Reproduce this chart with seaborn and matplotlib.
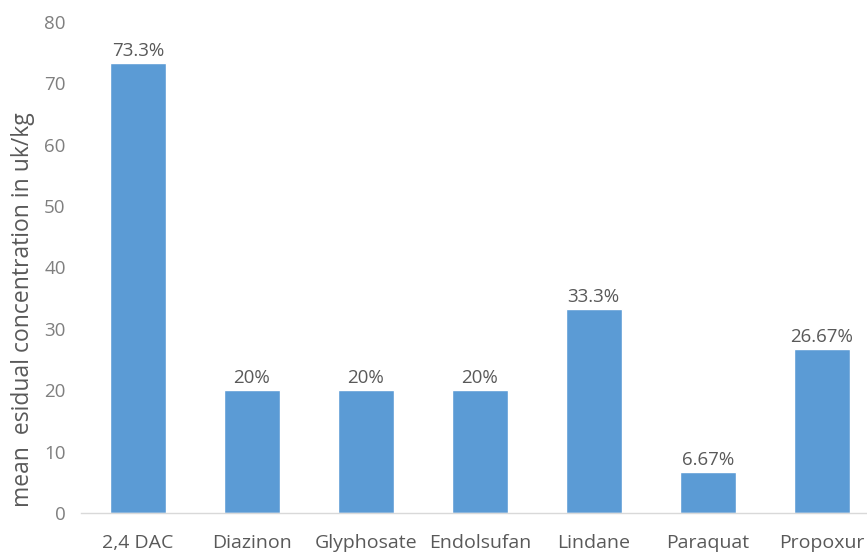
import matplotlib
matplotlib.use("Agg")
import matplotlib.pyplot as plt
import seaborn as sns
import pandas as pd

pesticides = ["2,4 DAC", "Diazinon", "Glyphosate", "Endolsufan", "Lindane", "Paraquat", "Propoxur"]
residue = [73.3, 20, 20, 20, 33.3, 6.67, 26.67]
bar_labels = ["73.3%", "20%", "20%", "20%", "33.3%", "6.67%", "26.67%"]
y_ticks = [0, 10, 20, 30, 40, 50, 60, 70, 80]

sns.set_theme(style="white")
plt.rcParams["font.family"] = ["Open Sans", "DejaVu Sans"]

grey = "#595959"
fig = plt.figure(figsize=(8.67, 5.55), dpi=100)
ax = fig.add_axes([0.0934, 0.0757, 0.92, 0.8847])

df = pd.DataFrame({"pesticide": pesticides, "residue": residue})
sns.barplot(data=df, x="pesticide", y="residue", color="#5B9BD5", saturation=1,
            width=0.49, ax=ax)

for patch, lab in zip(ax.patches, bar_labels):
    ax.text(patch.get_x() + patch.get_width() / 2, patch.get_height() + 0.5, lab,
            ha="center", va="bottom", fontsize=13.5, color=grey)

ax.set_ylim(0, 80)
ax.set_yticks(y_ticks)
ax.set_yticklabels([str(t) for t in y_ticks], fontsize=13.5, color="#7f7f7f")
ax.set_xticks(range(len(pesticides)))
ax.set_xticklabels(pesticides, fontsize=14, color=grey)
ax.tick_params(axis="x", length=0, pad=15)
ax.tick_params(axis="y", length=0, pad=11)
ax.set_xlabel("")
ax.set_ylabel("mean  esidual concentration in uk/kg", fontsize=16.5, color=grey)
ax.yaxis.set_label_coords(-0.058, 0.415)

for s in ["top", "right", "left"]:
    ax.spines[s].set_visible(False)
ax.spines["bottom"].set_color("#d9d9d9")
ax.spines["bottom"].set_linewidth(1)

fig.savefig("out.png", dpi=100)
